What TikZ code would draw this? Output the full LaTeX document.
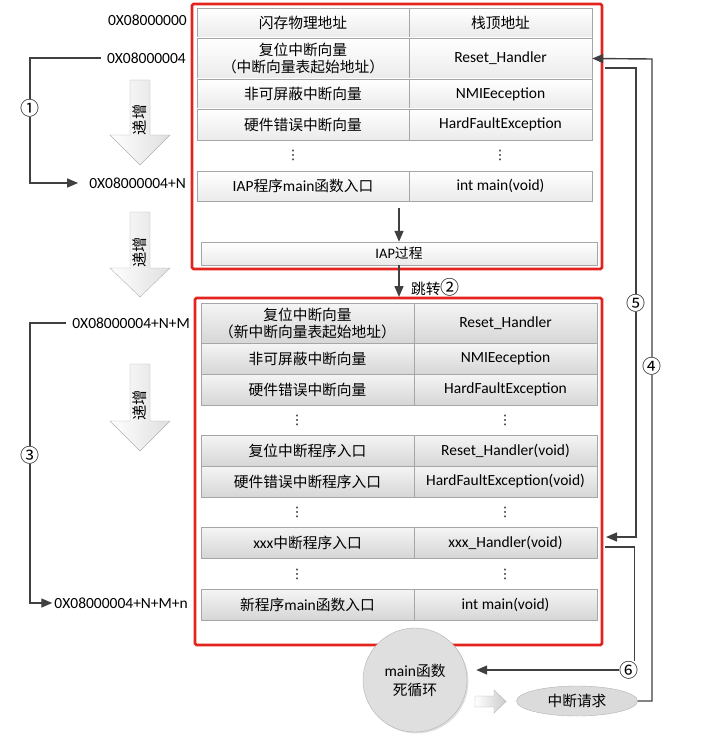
\documentclass[tikz,border=0pt]{standalone}
\usepackage{fontspec}
\setmainfont{Carlito}
\newfontfamily\cjk[Scale=0.95]{Noto Sans CJK SC}
\newfontfamily\symb{DejaVu Sans}
\newcommand{\zh}[1]{{\cjk #1}}
\newcommand{\circnum}[1]{{\cjk\fontsize{20}{20}\selectfont #1}}
\usetikzlibrary{arrows.meta,shapes.geometric,shadows}

\definecolor{frame red}{HTML}{E3231E}
\definecolor{line gray}{HTML}{404040}

\begin{document}
\begin{tikzpicture}[x=1pt, y=-1pt,
    font=\fontsize{15.5}{19}\selectfont,
    oldcell/.style = {draw=gray!70, top color=white, bottom color=gray!16,
      inner sep=0pt, align=center,
      drop shadow={shadow xshift=1pt, shadow yshift=-1pt, opacity=.25}},
    newcell/.style = {draw=gray!70, top color=gray!8, bottom color=gray!32,
      inner sep=0pt, align=center,
      drop shadow={shadow xshift=1.2pt, shadow yshift=-1.2pt, opacity=.3}},
    oldleft/.style  = {minimum width=212pt},
    oldright/.style = {minimum width=183pt},
    newleft/.style  = {minimum width=213pt},
    newright/.style = {minimum width=183pt},
    addr/.style     = {anchor=east, inner sep=2pt},
    redframe/.style = {draw=frame red, line width=2.8pt, rounded corners=1.5pt},
    conn/.style     = {draw=line gray, line width=1.4pt},
    tip/.style      = {-{Triangle[length=11pt,width=9pt]}},
    numlab/.style   = {fill=white, inner sep=0.5pt},
    hollow/.style   = {draw=gray!60, left color=white, right color=gray!25},
    inctext/.style  = {rotate=90, inner sep=0pt, font=\cjk\fontsize{16}{18}\selectfont},
    vdots/.style    = {inner sep=0pt, font=\symb\fontsize{13}{13}\selectfont},
  ]
  \useasboundingbox (0,0) rectangle (701,738);

  % frames
  \draw[redframe] (192,4) rectangle (602,269);
  \draw[redframe] (195,298) rectangle (602,645);

  % first (IAP) vector table
  \node[oldcell,oldleft,minimum height=30pt]  (o1l) at (303,23)    {\zh{闪存物理地址}};
  \node[oldcell,oldright,minimum height=30pt] (o1r) at (500.5,23)  {\zh{栈顶地址}};
  \node[oldcell,oldleft,minimum height=41pt]  (o2l) at (303,58.5)
    {\zh{复位中断向量}\\[-2pt]\zh{（中断向量表起始地址）}};
  \node[oldcell,oldright,minimum height=41pt] (o2r) at (500.5,58.5) {Reset\_Handler};
  \node[oldcell,oldleft,minimum height=30pt]  (o3l) at (303,94)    {\zh{非可屏蔽中断向量}};
  \node[oldcell,oldright,minimum height=30pt] (o3r) at (500.5,94)  {NMIEeception};
  \node[oldcell,oldleft,minimum height=31pt]  (o4l) at (303,124.5) {\zh{硬件错误中断向量}};
  \node[oldcell,oldright,minimum height=31pt] (o4r) at (500.5,124.5) {HardFaultException};
  \node[vdots] (od1) at (293,155) {⋮};
  \node[vdots] (od2) at (500,155) {⋮};
  \node[oldcell,oldleft,minimum height=30pt]  (o5l) at (303,186)   {IAP\zh{程序}main\zh{函数入口}};
  \node[oldcell,oldright,minimum height=30pt] (o5r) at (500.5,186) {int main(void)};

  \node[oldcell,minimum width=396pt,minimum height=23pt,font=\fontsize{14.5}{16}\selectfont]
    (iap) at (399,253.5) {IAP\zh{过程}};
  \coordinate (iapin) at (399,208);
  \draw[conn,tip] (iapin) -- (iap.north);

  % jump to the new program
  \coordinate (jmp) at (399,297);
  \draw[conn,tip] (iap.south) -- (jmp);
  \node[anchor=west, inner sep=0pt] (jmplab) at (411,287) {\zh{跳转}\circnum{②}};

  % second (application) vector table
  \node[newcell,newleft,minimum height=40pt]  (n1l) at (307.5,323)
    {\zh{复位中断向量}\\[-2pt]\zh{（新中断向量表起始地址）}};
  \node[newcell,newright,minimum height=40pt] (n1r) at (505.5,323)   {Reset\_Handler};
  \node[newcell,newleft,minimum height=31pt]  (n2l) at (307.5,358.5) {\zh{非可屏蔽中断向量}};
  \node[newcell,newright,minimum height=31pt] (n2r) at (505.5,358.5) {NMIEeception};
  \node[newcell,newleft,minimum height=31pt]  (n3l) at (307.5,389.5) {\zh{硬件错误中断向量}};
  \node[newcell,newright,minimum height=31pt] (n3r) at (505.5,389.5) {HardFaultException};
  \node[vdots] (nd1) at (297,420) {⋮};
  \node[vdots] (nd2) at (505,420) {⋮};
  \node[newcell,newleft,minimum height=31pt]  (n4l) at (307.5,450.5) {\zh{复位中断程序入口}};
  \node[newcell,newright,minimum height=31pt] (n4r) at (505.5,450.5) {Reset\_Handler(void)};
  \node[newcell,newleft,minimum height=31pt]  (n5l) at (307.5,481.5) {\zh{硬件错误中断程序入口}};
  \node[newcell,newright,minimum height=31pt] (n5r) at (505.5,481.5) {HardFaultException(void)};
  \node[vdots] (nd3) at (297,512) {⋮};
  \node[vdots] (nd4) at (505,512) {⋮};
  \node[newcell,newleft,minimum height=31pt]  (n6l) at (307.5,542.5) {xxx\zh{中断程序入口}};
  \node[newcell,newright,minimum height=31pt] (n6r) at (505.5,542.5) {xxx\_Handler(void)};
  \node[vdots] (nd5) at (297,574) {⋮};
  \node[vdots] (nd6) at (505,574) {⋮};
  \node[newcell,newleft,minimum height=31pt]  (n7l) at (307.5,604.5) {\zh{新程序}main\zh{函数入口}};
  \node[newcell,newright,minimum height=31pt] (n7r) at (505.5,604.5) {int main(void)};

  % addresses
  \node[addr] (a1) at (189,20)  {0X08000000};
  \node[addr] (a2) at (188,58)  {0X08000004};
  \node[addr] (a3) at (188,183) {0X08000004+N};
  \node[addr] (a4) at (192,323) {0X08000004+N+M};
  \node[addr] (a5) at (190,603) {0X08000004+N+M+n};

  \coordinate (c1) at (30,108);
  \draw[conn,tip] ([xshift=-4pt]a2.west) -| (c1) |- ([xshift=-9pt]a3.west);
  \node[numlab] (l1) at (c1) {\circnum{①}};
  \coordinate (c3) at (30,455);
  \draw[conn,tip] ([xshift=-4pt]a4.west) -| (c3) |- (a5.west);
  \node[numlab] (l3) at (c3) {\circnum{③}};

  % increasing addresses
  \draw[hollow] (130,80) -- (150,80) -- (150,135) -- (170,135) -- (140,165)
    -- (110,135) -- (130,135) -- cycle;
  \node[inctext] (inc1) at (140,120) {递增};
  \draw[hollow] (130,212) -- (150,212) -- (150,268) -- (170,268) -- (140,297)
    -- (110,268) -- (130,268) -- cycle;
  \node[inctext] (inc2) at (140,252) {递增};
  \draw[hollow] (130,364) -- (150,364) -- (150,421) -- (170,421) -- (140,451)
    -- (110,421) -- (130,421) -- cycle;
  \node[inctext] (inc3) at (140,405) {递增};

  % main loop and interrupt request
  \node[circle, draw=gray!60, fill=gray!25, minimum size=104pt, align=center,
    drop shadow={shadow xshift=1.5pt, shadow yshift=-1.5pt, opacity=.25}]
    (loop) at (415,680) {main\zh{函数}\\\zh{死循环}};
  \node[ellipse, draw=gray!60, fill=gray!28, minimum width=121pt, minimum height=30pt,
    inner sep=0pt] (irq) at (577,701) {\zh{中断请求}};
  \draw[hollow, right color=gray!40] (475,696) -- (494,696) -- (494,690) -- (506,701.5)
    -- (494,713) -- (494,707) -- (475,707) -- cycle;

  % interrupt paths
  \coordinate (c4) at (652,59);
  \draw[conn,tip] (irq.east) -| (c4) -- (o2r.east);
  \node[numlab] (l4) at (652,366) {\circnum{④}};

  \coordinate (s5) at (605,68);
  \coordinate (c5) at (636,68);
  \coordinate (e5) at (606,537);
  \draw[conn,tip] (s5) -- (c5) |- (e5);
  \node[numlab] (l5) at (636,303) {\circnum{⑤}};

  \coordinate (s6) at (605,547);
  \node[numlab, inner sep=0pt] (l6) at (629,670) {\circnum{⑥}};
  \draw[conn] (s6) -| ([xshift=-4pt]l6.north east);
  \draw[conn,tip,shorten >=9pt] (l6.west) -- (loop.east |- l6.west);
\end{tikzpicture}
\end{document}
